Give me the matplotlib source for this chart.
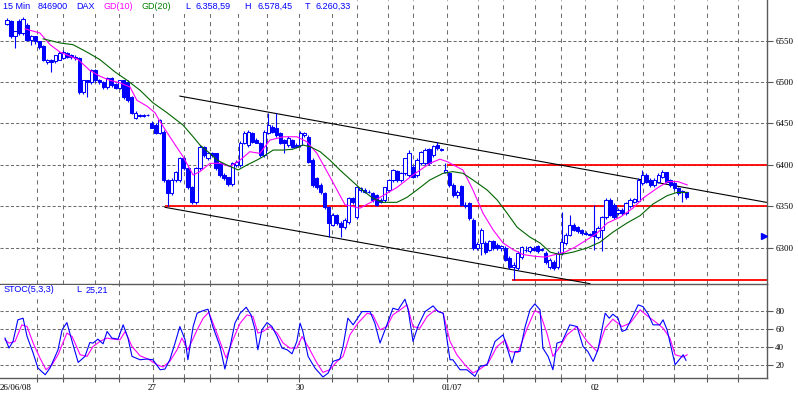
import matplotlib
matplotlib.use('Agg')
import matplotlib.pyplot as plt
from matplotlib.patches import Rectangle

# 15 minute DAX candles (bar index -> OHLC)
opens = [6570, 6574, 6555, 6574, 6559, 6569, 6551, 6555, 6549, 6543,
         6524, 6527, 6525, 6527, 6529, 6535, 6532, 6530, 6529, 6488,
         6502, 6500, 6514, 6502, 6500, 6494, 6505, 6498, 6493, 6502,
         6500, 6482, 6457, 6460, 6459, 6460, 6451, 6448, 6439, 6440,
         6382, 6366, 6382, 6382, 6408, 6396, 6373, 6355, 6396, 6422,
         6408, 6414, 6414, 6402, 6388, 6385, 6377, 6400, 6400, 6427,
         6424, 6439, 6430, 6427, 6412, 6439, 6446, 6445, 6439, 6430,
         6424, 6430, 6424, 6424, 6436, 6434, 6406, 6384, 6376, 6366,
         6349, 6328, 6340, 6330, 6325, 6331, 6360, 6337, 6370, 6370,
         6368, 6366, 6364, 6358, 6358, 6370, 6382, 6393, 6382, 6390,
         6388, 6398, 6388, 6402, 6402, 6419, 6412, 6424, 6419, 6392,
         6390, 6376, 6364, 6375, 6352, 6354, 6334, 6300, 6306, 6306,
         6298, 6308, 6304, 6300, 6300, 6288, 6277, 6276, 6289, 6298,
         6296, 6300, 6302, 6298, 6294, 6277, 6283, 6277, 6294, 6306,
         6316, 6328, 6325, 6322, 6318, 6317, 6320, 6313, 6322, 6337,
         6358, 6352, 6342, 6346, 6342, 6350, 6356, 6357, 6378, 6388,
         6382, 6376, 6380, 6386, 6391, 6382, 6378, 6372, 6369, 6367]
highs = [6577, 6575, 6562, 6576, 6578, 6571, 6557, 6556, 6550, 6545,
         6528, 6528, 6533, 6537, 6538, 6536, 6534, 6532, 6530, 6503,
         6503, 6516, 6516, 6504, 6501, 6506, 6506, 6499, 6503, 6503,
         6502, 6483, 6465, 6461, 6461, 6461, 6453, 6450, 6456, 6442,
         6383, 6384, 6393, 6410, 6410, 6398, 6375, 6398, 6424, 6423,
         6416, 6416, 6415, 6403, 6390, 6386, 6404, 6406, 6429, 6441,
         6442, 6440, 6432, 6428, 6442, 6463, 6448, 6463, 6440, 6431,
         6435, 6431, 6426, 6441, 6440, 6436, 6408, 6386, 6378, 6367,
         6350, 6342, 6341, 6332, 6336, 6362, 6362, 6375, 6374, 6372,
         6370, 6368, 6365, 6360, 6374, 6383, 6395, 6394, 6392, 6409,
         6418, 6400, 6408, 6417, 6420, 6420, 6424, 6428, 6420, 6402,
         6392, 6378, 6370, 6376, 6355, 6355, 6336, 6307, 6324, 6308,
         6310, 6310, 6306, 6304, 6302, 6290, 6283, 6296, 6302, 6302,
         6302, 6302, 6303, 6300, 6296, 6288, 6285, 6296, 6343, 6318,
         6340, 6330, 6326, 6323, 6320, 6318, 6352, 6326, 6339, 6360,
         6360, 6354, 6348, 6348, 6356, 6360, 6360, 6384, 6394, 6390,
         6384, 6384, 6390, 6394, 6392, 6383, 6379, 6373, 6370, 6368]
lows = [6569, 6553, 6541, 6557, 6557, 6549, 6545, 6546, 6540, 6525,
        6522, 6512, 6523, 6526, 6528, 6529, 6528, 6527, 6485, 6486,
        6482, 6498, 6500, 6498, 6492, 6492, 6494, 6491, 6491, 6480,
        6476, 6461, 6456, 6458, 6458, 6459, 6444, 6437, 6437, 6380,
        6351, 6364, 6380, 6380, 6394, 6371, 6353, 6353, 6394, 6410,
        6406, 6410, 6394, 6386, 6382, 6375, 6375, 6398, 6398, 6425,
        6422, 6426, 6426, 6410, 6410, 6437, 6438, 6434, 6425, 6414,
        6422, 6420, 6420, 6422, 6434, 6402, 6374, 6371, 6365, 6347,
        6313, 6326, 6328, 6313, 6323, 6329, 6353, 6335, 6368, 6366,
        6366, 6356, 6350, 6354, 6356, 6368, 6380, 6380, 6380, 6388,
        6386, 6384, 6386, 6400, 6400, 6400, 6410, 6418, 6417, 6390,
        6374, 6362, 6360, 6350, 6348, 6334, 6298, 6298, 6292, 6293,
        6296, 6298, 6298, 6296, 6284, 6275, 6261, 6274, 6287, 6295,
        6294, 6296, 6294, 6296, 6281, 6275, 6274, 6275, 6292, 6304,
        6314, 6320, 6318, 6316, 6316, 6314, 6298, 6311, 6296, 6335,
        6338, 6335, 6340, 6340, 6340, 6348, 6354, 6355, 6376, 6378,
        6374, 6374, 6378, 6384, 6378, 6374, 6370, 6364, 6355, 6359]
closes = [6575, 6555, 6561, 6559, 6576, 6551, 6555, 6549, 6542, 6527,
          6527, 6524, 6532, 6535, 6536, 6530, 6530, 6529, 6488, 6502,
          6500, 6514, 6502, 6500, 6494, 6505, 6496, 6493, 6502, 6482,
          6478, 6463, 6463, 6459, 6460, 6460, 6445, 6439, 6454, 6382,
          6366, 6382, 6392, 6408, 6396, 6373, 6355, 6396, 6422, 6412,
          6414, 6412, 6396, 6388, 6384, 6377, 6402, 6404, 6427, 6439,
          6440, 6428, 6427, 6412, 6440, 6448, 6440, 6436, 6427, 6427,
          6433, 6422, 6422, 6439, 6438, 6404, 6376, 6373, 6367, 6349,
          6330, 6340, 6330, 6325, 6334, 6360, 6355, 6373, 6372, 6368,
          6367, 6358, 6352, 6356, 6373, 6382, 6394, 6382, 6390, 6408,
          6414, 6386, 6406, 6416, 6418, 6402, 6423, 6420, 6418, 6394,
          6376, 6364, 6368, 6352, 6350, 6336, 6300, 6305, 6322, 6295,
          6308, 6300, 6300, 6302, 6286, 6277, 6280, 6294, 6301, 6297,
          6301, 6298, 6296, 6299, 6283, 6286, 6276, 6294, 6307, 6316,
          6328, 6322, 6320, 6318, 6317, 6316, 6314, 6324, 6337, 6358,
          6340, 6337, 6346, 6342, 6354, 6358, 6359, 6382, 6388, 6380,
          6376, 6382, 6388, 6392, 6380, 6376, 6372, 6366, 6367, 6361]

# GD(10) / GD(20) moving averages (bar, price)
gd10_x = [4.5, 8.2, 10.7, 13.2, 15.7, 17.7, 20.6, 23.1, 25.6, 28.1, 30.6, 32.3,
          34.8, 36.8, 38.1, 40.5, 43.8, 46.3, 48.0, 50.5, 53.0, 55.5, 58.0, 60.4,
          62.9, 65.4, 68.7, 72.1, 74.6, 77.1, 80.3, 84.1, 87.8, 92.8, 97.0, 101.0,
          105.2, 107.7, 109.5, 113.4, 115.9, 118.4, 120.9, 123.4, 125.9, 128.4,
          131.3, 133.8, 136.3, 138.8, 141.3, 144.3, 146.8, 149.3, 152.5, 155.7,
          158.2, 161.7, 164.4, 166.9, 169.2]
gd10_y = [6564, 6559, 6545, 6536, 6531, 6527, 6514, 6507, 6502, 6499, 6494, 6478,
          6471, 6463, 6452, 6434, 6410, 6388, 6392, 6402, 6402, 6398, 6406, 6416,
          6414, 6430, 6434, 6434, 6428, 6414, 6386, 6352, 6348, 6361, 6373, 6388,
          6402, 6407, 6404, 6394, 6370, 6342, 6322, 6306, 6298, 6292,
          6290, 6289, 6292, 6295, 6301, 6310, 6318, 6330, 6337, 6348,
          6360, 6372, 6380, 6380, 6376]
gd20_x = [9.0, 13.2, 16.4, 19.9, 23.1, 26.9, 29.9, 33.1, 36.3, 39.8, 43.8, 46.3,
          48.0, 50.5, 52.2, 54.7, 57.5, 59.7, 62.2, 63.7, 66.2, 68.7, 71.1, 73.6,
          75.4, 77.9, 80.3, 82.8, 85.3, 87.8, 91.0, 93.5, 97.0, 99.5, 102.0, 105.2,
          108.5, 110.9, 113.4, 115.9, 119.4, 121.9, 124.4, 126.9, 130.1, 132.6,
          135.1, 137.6, 140.8, 144.3, 147.5, 150.7, 154.2, 157.5, 160.7, 164.2,
          166.7, 169.2]
gd20_y = [6552, 6547, 6545, 6536, 6527, 6512, 6502, 6490, 6475, 6463, 6448, 6434,
          6424, 6414, 6406, 6400, 6394, 6400, 6406, 6410, 6418, 6418, 6419, 6424,
          6422, 6416, 6406, 6394, 6383, 6372, 6360, 6355, 6355, 6361, 6370, 6382,
          6390, 6392, 6390, 6382, 6370, 6358, 6342, 6325, 6313, 6306,
          6295, 6292, 6295, 6300, 6307, 6319, 6330, 6339, 6353, 6363,
          6367, 6367]

# STOC(5,3,3): %K (blue) and %D (magenta)
stk_x = [-0.5, 0.5, 1.5, 2.7, 4.0, 5.0, 6.5, 7.7, 9.5, 10.7, 12.7, 13.7, 14.9, 16.2,
         17.7, 19.4, 20.6, 21.4, 22.6, 23.9, 24.9, 26.1, 27.6, 28.9, 30.1, 31.1,
         33.1, 34.8, 36.3, 38.1, 39.3, 40.5, 41.8, 43.0, 44.3, 45.0, 46.3, 47.3,
         48.8, 50.0, 51.2, 53.0, 54.2, 55.5, 56.7, 58.0, 59.5, 60.7, 61.7, 62.4,
         63.4, 64.7, 65.9, 67.2, 68.4, 69.7, 70.9, 72.1, 72.9, 73.6, 74.9, 76.6,
         78.6, 79.9, 81.1, 82.8, 83.6, 84.8, 86.1, 88.3, 90.3, 91.5, 92.8, 94.5,
         96.0, 97.3, 97.8, 99.0, 99.8, 101.0, 102.2, 104.0, 106.0, 107.2, 108.5,
         110.2, 110.9, 112.7, 114.4, 116.4, 117.7, 119.4, 121.4, 123.4, 125.6,
         126.4, 127.6, 128.9, 130.1, 131.3, 132.6, 133.3, 134.6, 135.8, 136.8,
         138.1, 140.0, 141.8, 143.3, 144.5, 145.8, 147.0, 148.8, 149.8, 150.7,
         152.0, 153.0, 154.0, 155.0, 157.0, 158.2, 159.5, 160.7, 162.4, 163.2,
         164.2, 166.2, 168.2, 168.9]
stk_y = [49.7, 38.7, 46, 69.8, 71.6, 51.4, 33.2, 16.7, 9.3, 16.7, 36.8, 58.8, 66.8, 46,
         22.9, 29.5, 44.8, 44.2, 48.5, 43.4, 57, 49.7, 48.5, 64.3, 49.7, 29.5,
         25.8, 26.6, 25.8, 14.8, 15.6, 25.8, 44.2, 62.4, 47.8, 25.8, 62.4, 77.1,
         80, 81.5, 62.4, 40.4, 15.6, 40.4, 66.2, 77.1, 83.7, 75.3, 58.8, 36.8,
         58.8, 66.8, 62.4, 51.4, 38.7, 36.8, 32.4, 46, 66.2, 57, 29.5, 16.7,
         6.8, 11.2, 24, 26.6, 40.4, 71.6, 64.3, 78.9, 78.9, 66.2, 44.2, 64.3,
         82.6, 80.8, 84.4, 92.5, 80.8, 46, 62.4, 78.9, 85.2, 78.9, 77.1,
         25.8, 25.8, 14.8, 14.8, 7.5, 18.5, 20.3, 46, 53.3, 22.2,
         34.9, 34.9, 62.4, 80.8, 87.4, 80.8, 38.7, 29.5, 14.8, 44.2,
         46, 64.3, 62.4, 40.4, 34.9, 24, 36.8, 77.1, 71.6, 76,
         71.6, 57, 58.8, 67.9, 86.3, 84.4, 76, 64.3, 64.3, 69.8,
         58.8, 20.3, 31.3, 25.2]
std_x = [-0.5, 0.5, 2.0, 3.7, 5.0, 6.5, 8.2, 9.7, 11.2, 12.7, 14.9, 16.2, 18.2, 19.9,
         21.4, 23.1, 24.9, 26.4, 28.1, 29.4, 31.1, 33.1, 35.1, 37.3, 38.8, 40.5,
         42.3, 43.5, 45.0, 47.3, 48.8, 50.2, 52.2, 54.5, 56.2, 58.0, 59.7, 61.2,
         62.4, 63.7, 65.4, 67.2, 68.7, 70.4, 72.1, 73.4, 74.9, 77.1, 78.6, 80.3,
         82.1, 83.6, 85.3, 87.3, 89.6, 91.0, 92.8, 94.5, 96.0, 97.8, 99.5, 101.0,
         102.7, 104.5, 106.5, 108.5, 110.2, 111.9, 113.9, 115.9, 117.7, 119.7,
         121.9, 123.9, 125.1, 127.1, 129.4, 131.3, 132.6, 134.3, 135.8, 137.6,
         139.3, 141.8, 144.3, 146.8, 148.8, 150.7, 153.0, 155.0, 157.5, 159.5,
         161.7, 163.2, 164.9, 166.2, 168.2, 169.2]
std_y = [47.8, 44.2, 46, 64.3, 62.4, 44.2, 27.7, 14.8, 20.3, 31.3, 55.2, 51.4, 31.3, 29.5,
         40.4, 46, 49.7, 48.5, 47.8, 57, 40.4, 30.2, 26.6, 20.3, 17.8, 24,
         36.8, 49.7, 36.8, 58.8, 71.6, 78.2, 55.2, 27.7, 47.8, 66.2, 75.3, 73.4,
         55.2, 57, 62.4, 55.2, 44.2, 38.7, 38.7, 51.4, 40.4, 22.2, 11.9, 14.8,
         24, 29.5, 53.3, 66.2, 77.1, 75.3, 58.8, 62.4, 75.3, 80.8, 86.3, 62.4,
         60.6, 73.4, 80.8, 77.1, 46, 31.3, 20.3, 11.2, 15.6, 22.2,
         40.4, 47.8, 34.9, 33.8, 60.6, 80, 77.1, 55.2, 29.5, 40.4,
         53.3, 62.4, 46, 34.9, 60.6, 70.5, 62.4, 66.2, 80.8, 73.4,
         66.2, 60.6, 49.7, 31.3, 28.8, 31.3]

# drawn trend lines (bar, price) and horizontal support/resistance levels
upper_trend = ([43.0, 188.9], [6483, 6355])
lower_trend = ([39.3, 145.0], [6349, 6257])
red_levels = [(6400, 109.5), (6350, 39.3), (6261, 125.6)]

price_ticks = [6300, 6350, 6400, 6450, 6500, 6550]
stoch_ticks = [20, 40, 60, 80]

# --- layout (pixel geometry of the 798x396 picture) ---
W, H = 798, 396
BAR_PX, X0_PX = 4.02, 7.0


def px2bar(px):
    return (px - X0_PX) / BAR_PX


grid_px = [37, 63, 95, 119, 153, 184, 210, 238, 267, 299, 332, 357, 388, 413,
           447, 478, 503, 535, 561, 585, 617, 643, 674, 707, 738]
grid_bars = [px2bar(p) for p in grid_px]
day_labels = [("26/06/08", 0, 'left'), ("27", 152, 'center'), ("30", 300, 'center'),
              ("01/07", 452, 'center'), ("02", 595, 'center')]

BLUE = '#0000ff'
MAGENTA = '#ff00ff'
GREEN = '#006400'
GRID = '#6e6e6e'
FRAME = '#5a5a5a'

fig = plt.figure(figsize=(W / 100, H / 100), dpi=100)
fig.patch.set_facecolor('white')
ax = fig.add_axes([0, (H - 284) / H, 767 / W, 284 / H])
axs = fig.add_axes([0, (H - 378) / H, 767 / W, 94 / H])

xlim = (px2bar(0), px2bar(767))
for a in (ax, axs):
    a.set_xlim(*xlim)
    a.set_facecolor('white')
    for s in a.spines.values():
        s.set_color(FRAME)
        s.set_linewidth(1.0)
    a.spines['left'].set_visible(False)
    for g in grid_bars:
        a.axvline(g, color=GRID, lw=0.75, ls=(0, (4, 4)), zorder=0)
    a.yaxis.tick_right()
    a.tick_params(axis='y', direction='out', length=4, width=0.8, color=FRAME,
                  labelsize=6.5, pad=2)

# main price panel
ax.set_ylim(6256.6, 6598.8)
ax.set_yticks(price_ticks)
ax.set_yticklabels([str(t) for t in price_ticks], fontfamily='Liberation Serif', fontsize=6.5)
ax.set_xticks([])
ax.spines['bottom'].set_visible(False)
ax.spines['top'].set_visible(False)
for t in price_ticks:
    ax.axhline(t, color=GRID, lw=0.75, ls=(0, (3, 2)), zorder=0)

for lvl, start in red_levels:
    ax.plot([start, xlim[1]], [lvl, lvl], color='#ff0000', lw=1.3, zorder=2,
            solid_capstyle='butt')
ax.plot(*upper_trend, color='black', lw=0.8, zorder=2)
ax.plot(*lower_trend, color='black', lw=0.8, zorder=2)

xs = list(range(len(closes)))
ax.vlines(xs, lows, highs, color=BLUE, lw=0.8, zorder=3)
bottoms = [min(o, c) for o, c in zip(opens, closes)]
heights = [max(abs(c - o), 0.6) for o, c in zip(opens, closes)]
faces = ['white' if c >= o else BLUE for o, c in zip(opens, closes)]
ax.bar(xs, heights, bottom=bottoms, width=0.8, color=faces, edgecolor=BLUE,
       linewidth=0.75, zorder=4)

ax.plot(gd10_x, gd10_y, color=MAGENTA, lw=0.8, zorder=5)
ax.plot(gd20_x, gd20_y, color=GREEN, lw=0.8, zorder=5)
ax.plot([px2bar(764)], [6315], marker='>', color=BLUE, ms=4, zorder=6, clip_on=False)

# stochastic panel
axs.set_ylim(5.7, 109.3)
axs.set_yticks(stoch_ticks)
axs.set_yticklabels([str(t) for t in stoch_ticks], fontfamily='Liberation Serif', fontsize=6.5)
for t in stoch_ticks:
    axs.axhline(t, color=GRID, lw=0.75, ls=(0, (3, 2)), zorder=0)
axs.set_xticks(grid_bars)
axs.set_xticklabels([])
axs.tick_params(axis='x', direction='out', length=3, width=0.8, color=FRAME)
axs.plot(std_x, std_y, color=MAGENTA, lw=0.8, zorder=3)
axs.plot(stk_x, stk_y, color=BLUE, lw=0.8, zorder=4)

# white bands under the panel headers (grid does not run through them)
fig.add_artist(Rectangle((0, 1 - 14 / H), 356 / W, 14 / H, transform=fig.transFigure,
                         facecolor='white', edgecolor='none', zorder=20))
fig.add_artist(Rectangle((0, 1 - 296 / H), 112 / W, 11 / H, transform=fig.transFigure,
                         facecolor='white', edgecolor='none', zorder=20))

for text, px, ha in day_labels:
    fig.text(px / W, 1 - 388 / H, text, ha=ha, va='center', fontsize=6.5,
             fontfamily='Liberation Serif', color='black')

# header texts
header = [("15 Min", 3, BLUE), ("846900", 38, BLUE), ("DAX", 76, BLUE),
          ("GD(10)", 103, MAGENTA), ("GD(20)", 142, '#008000'),
          ("L", 185, BLUE), ("6.358,59", 196, BLUE),
          ("H", 244, BLUE), ("6.578,45", 257, BLUE),
          ("T", 305, BLUE), ("6.260,33", 315, BLUE)]
for text, px, col in header:
    fig.text(px / W, 1 - 6.5 / H, text, ha='left', va='center', fontsize=6.5,
             fontfamily='Liberation Sans', color=col, zorder=21)
for text, px in [("STOC(5,3,3)", 4), ("L", 76), ("25,21", 86)]:
    fig.text(px / W, 1 - 290 / H, text, ha='left', va='center', fontsize=6.5,
             fontfamily='Liberation Sans', color=BLUE, zorder=21)

fig.savefig('out.png', dpi=100, facecolor='white')
